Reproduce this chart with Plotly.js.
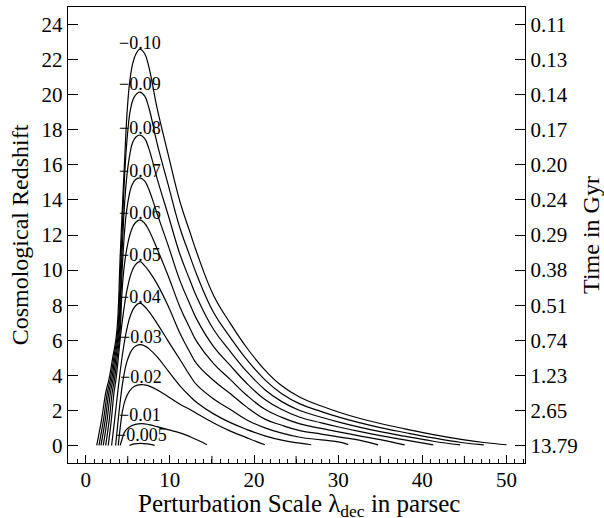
<!DOCTYPE html>
<html>
<head>
<meta charset="utf-8">
<script src="https://cdn.plot.ly/plotly-3.0.1.min.js"></script>
<style>html,body{margin:0;padding:0;background:#fff;}#chart{width:604px;height:518px;}</style>
</head>
<body>
<div id="chart"></div>
<script>
// Curve data: perturbation scale (pc) and cosmological redshift, one pair per curve
const x_m010 = [1.31,1.90,2.38,2.78,3.21,3.68,4.12,4.6,4.95,5.25,5.6,6.0,6.45,7.0,7.5,8.5,9.8,11.2,12.4,13.2,15.2,17.2,19.1,21.3,23.3,25.45,28,30.2,32.5,35,37.9,41.3,44.6,47.3,50];
const z_m010 = [0,1.5,3.0,3.8,5.0,6.4,11.0,16.0,19.2,20.8,21.8,22.35,22.6,22.35,21.6,19.2,16.6,13.9,12.15,11.0,8.55,6.95,5.6,4.3,3.4,2.75,2.25,1.88,1.55,1.25,0.95,0.62,0.35,0.17,0.04];
const x_m009 = [1.58,2.13,2.57,2.94,3.34,3.78,4.22,4.7,5.0,5.3,5.65,6.05,6.45,7.0,7.5,8.5,9.8,11.2,12.4,13.2,15.2,17.2,19.1,21.3,23.3,25.45,28,30.2,32.5,35,37.9,41.3,44.6,47.3];
const z_m009 = [0,1.5,3.0,3.8,5.0,6.4,11.0,16.0,17.9,19.1,19.75,20.05,20.15,19.93,19.27,17.2,14.87,12.4,10.78,9.73,7.58,6.15,4.92,3.74,2.95,2.37,1.93,1.6,1.3,1.02,0.74,0.43,0.17,0.03];
const x_m008 = [1.82,2.34,2.75,3.10,3.47,3.88,4.32,4.6,4.9,5.25,5.6,6.0,6.45,7.0,7.5,8.5,9.8,11.2,12.4,13.2,15.2,17.2,19.1,21.3,23.3,25.45,28,30.2,32.5,35,37.9,41.3,44.5];
const z_m008 = [0,1.5,3.0,3.8,5.0,6.4,11.0,13.6,15.4,16.6,17.3,17.6,17.7,17.51,16.94,15.2,13.14,10.9,9.41,8.46,6.61,5.35,4.24,3.18,2.5,1.99,1.61,1.32,1.05,0.79,0.53,0.24,0.03];
const x_m007 = [2.09,2.56,2.94,3.26,3.60,3.98,4.23,4.45,4.75,5.1,5.5,5.9,6.45,7.0,7.5,8.5,9.8,11.2,12.4,13.2,15.2,17.2,19.1,21.3,23.3,25.45,28,30.2,32.5,35,37.9,41.3];
const z_m007 = [0,1.5,3.0,3.8,5.0,6.4,9.0,11.0,12.9,14.1,14.85,15.15,15.26,15.09,14.61,13.2,11.41,9.4,8.04,7.19,5.64,4.55,3.56,2.62,2.05,1.61,1.29,1.04,0.8,0.56,0.32,0.03];
const x_m006 = [2.38,2.81,3.15,3.43,3.74,4.08,4.3,4.6,5.0,5.45,5.9,6.45,7.0,7.5,8.5,9.8,11.2,12.4,13.2,15.2,17.2,19.1,21.3,23.3,25.45,28,30.2,32.5,35,37.9];
const z_m006 = [0,1.5,3.0,3.8,5.0,6.4,8.6,10.3,11.5,12.3,12.7,12.86,12.67,12.28,11.2,9.68,7.9,6.67,5.92,4.67,3.75,2.88,2.06,1.6,1.23,0.97,0.76,0.55,0.33,0.03];
const x_m005 = [2.68,3.06,3.36,3.61,3.88,4.18,4.55,4.95,5.4,5.9,6.45,7.0,7.5,8.5,9.8,11.2,12.4,13.2,15.2,17.2,19.1,21.3,23.3,25.45,28,30.2,32.5,34.75];
const z_m005 = [0,1.5,3.0,3.8,5.0,6.4,7.8,8.95,9.8,10.3,10.48,10.25,9.95,9.2,7.95,6.4,5.3,4.65,3.7,2.95,2.2,1.5,1.15,0.85,0.65,0.48,0.3,0.03];
const x_m004 = [3.08,3.45,3.8,4.15,4.5,4.9,5.35,5.9,6.45,7.0,7.5,8.5,9.8,11.2,12.4,13.2,15.2,17.2,19.1,21.3,23.3,25.45,28,30.2,31.2];
const z_m004 = [0,1.5,3.0,4.4,5.6,6.65,7.45,7.95,8.12,7.92,7.65,6.95,5.95,4.9,3.98,3.45,2.65,2.05,1.47,1.0,0.7,0.47,0.32,0.19,0.05];
const x_m003 = [3.56,3.85,4.15,4.5,4.95,5.5,6.0,6.5,7.0,7.5,8.5,9.8,11.2,12.4,13.2,15.2,17.2,19.1,21.3,23.3,25.45,26.8];
const z_m003 = [0,1.4,2.7,3.9,4.85,5.45,5.68,5.75,5.68,5.52,5.05,4.25,3.4,2.8,2.45,1.8,1.3,0.92,0.55,0.3,0.13,0.04];
const x_m002 = [3.87,4.1,4.35,4.7,5.2,5.8,6.6,7.0,7.5,8.5,9.8,11.2,12.4,13.2,15.2,17.2,19.1,20.3,21.3];
const z_m002 = [0,1.0,1.9,2.6,3.1,3.38,3.47,3.45,3.4,3.17,2.78,2.35,2.05,1.82,1.28,0.82,0.45,0.22,0.04];
const x_m001 = [4.1,4.35,4.67,5.2,5.9,6.65,7.5,8.5,9.8,11.2,12.4,13.4,14.4];
const z_m001 = [0,0.4,0.8,1.05,1.2,1.25,1.19,1.07,0.9,0.72,0.5,0.28,0.04];
const x_m0005 = [5.2,5.8,6.5,7.3,8.2];
const z_m0005 = [0,0.09,0.12,0.09,0.01];

const curveLabels = ['\u22120.10','\u22120.09','\u22120.08','\u22120.07','\u22120.06','\u22120.05','\u22120.04','\u22120.03','\u22120.02','\u22120.01','\u22120.005'];
const labelX = [6.5,6.5,6.5,6.5,6.5,6.5,6.5,6.6,6.55,6.5,6.65];
const labelY = [22.94,20.63,18.1,15.66,13.27,10.86,8.49,6.2,3.9,1.73,0.57];

const zTicks = [0,2,4,6,8,10,12,14,16,18,20,22,24];
const timeTickText = ['13.79','2.65','1.23','0.74','0.51','0.38','0.29','0.24','0.20','0.17','0.14','0.13','0.11'];
const xTickVals = [0,10,20,30,40,50];
const xMidTicks = [5,15,25,35,45];

const xs = [x_m010,x_m009,x_m008,x_m007,x_m006,x_m005,x_m004,x_m003,x_m002,x_m001,x_m0005];
const zs = [z_m010,z_m009,z_m008,z_m007,z_m006,z_m005,z_m004,z_m003,z_m002,z_m001,z_m0005];

const FONT = 'Liberation Serif, Times New Roman, serif';
const traces = xs.map((x, i) => ({
  x: x, y: zs[i], type: 'scatter', mode: 'lines',
  line: {color: '#000', width: 1.2, shape: 'spline', smoothing: 1.2},
  showlegend: false, hoverinfo: 'skip'
}));
traces.push({x: [0], y: [0], yaxis: 'y2', type: 'scatter', mode: 'markers',
  marker: {opacity: 0}, showlegend: false, hoverinfo: 'skip'});

const annotations = curveLabels.map((t, i) => ({
  x: labelX[i], y: labelY[i], xref: 'x', yref: 'y', text: t, showarrow: false,
  font: {family: FONT, size: 18, color: '#000'}, xanchor: 'center', yanchor: 'middle'
}));
annotations.push({
  x: 0.505, y: -0.094, xref: 'paper', yref: 'paper', xanchor: 'center', yanchor: 'middle',
  text: 'Perturbation Scale \u03bb<sub>dec</sub> in parsec', showarrow: false,
  font: {family: FONT, size: 25, color: '#000'}
});

// medium ticks at the odd multiples of 5, drawn as axis-anchored shapes
const shapes = xMidTicks.map(v => ({
  type: 'line', xref: 'x', yref: 'paper', x0: v, x1: v, y0: 0, y1: 0.0155,
  line: {color: '#000', width: 1}
}));

const layout = {
  width: 604, height: 518,
  margin: {l: 68, r: 79, t: 7, b: 55},
  paper_bgcolor: '#fff', plot_bgcolor: '#fff',
  font: {family: FONT, color: '#000', size: 21},
  showlegend: false,
  xaxis: {
    range: [-2.1, 52.2], showgrid: false, zeroline: false,
    showline: true, linecolor: '#000', linewidth: 1.2, mirror: true,
    ticks: 'inside', ticklen: 8, tickwidth: 1, tickcolor: '#000',
    tickmode: 'array', tickvals: xTickVals, ticktext: xTickVals.map(String),
    tickfont: {family: FONT, size: 21}, ticklabelstandoff: -2,
    minor: {dtick: 1, tick0: 0, ticks: 'inside', ticklen: 4, tickwidth: 1, tickcolor: '#000', showgrid: false}
  },
  yaxis: {
    range: [-1, 25], showgrid: false, zeroline: false,
    showline: true, linecolor: '#000', linewidth: 1.2,
    ticks: 'inside', ticklen: 10, tickwidth: 1, tickcolor: '#000',
    tickmode: 'array', tickvals: zTicks, ticktext: zTicks.map(String),
    tickfont: {family: FONT, size: 21},
    title: {text: 'Cosmological Redshift', font: {family: FONT, size: 24}, standoff: 6}
  },
  yaxis2: {
    overlaying: 'y', side: 'right', range: [-1, 25], showgrid: false, zeroline: false,
    showline: true, linecolor: '#000', linewidth: 1.2,
    ticks: 'inside', ticklen: 10, tickwidth: 1, tickcolor: '#000',
    tickmode: 'array', tickvals: zTicks, ticktext: timeTickText,
    tickfont: {family: FONT, size: 21},
    title: {text: 'Time in Gyr', font: {family: FONT, size: 24}, standoff: 6}
  },
  shapes: shapes,
  annotations: annotations
};

Plotly.newPlot('chart', traces, layout, {staticPlot: true, displayModeBar: false});
</script>
</body>
</html>
